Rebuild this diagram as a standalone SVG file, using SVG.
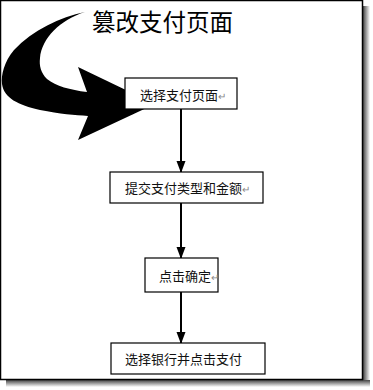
<svg xmlns="http://www.w3.org/2000/svg" width="373" height="390" viewBox="0 0 373 390">
<defs>
<style>
.box{fill:#fff;stroke:#000;stroke-width:1.2}
.lbl{font-family:"Noto Sans CJK SC","Noto Sans",sans-serif;font-size:13px;fill:#111}
.pm{fill:#888;font-size:10px}
.conn{stroke:#000;stroke-width:2;fill:none}
</style>
<marker id="ah" markerWidth="12" markerHeight="10" refX="11" refY="5" orient="auto" markerUnits="userSpaceOnUse">
<path d="M0,0.5 L12,5 L0,9.5 Z" fill="#000"/>
</marker>
<linearGradient id="shR" x1="0" x2="1" y1="0" y2="0"><stop offset="0" stop-color="#444"/><stop offset="1" stop-color="#fff"/></linearGradient>
<linearGradient id="shB" x1="0" x2="0" y1="0" y2="1"><stop offset="0" stop-color="#444"/><stop offset="1" stop-color="#fff"/></linearGradient>
</defs>
<rect width="373" height="390" fill="#fff"/>
<g id="frame">
<rect x="363" y="6" width="7" height="380" fill="url(#shR)"/>
<rect x="6" y="380" width="364" height="7" fill="url(#shB)"/>
<rect x="0.5" y="0.5" width="362" height="379" fill="#fff" stroke="#000" stroke-width="1.5"/>
</g>
<g id="title">
<text x="92" y="31" font-family="Noto Sans CJK SC,Noto Sans,sans-serif" font-size="23.5" fill="#000">篡改支付页面</text>
</g>
<g id="bigArrow">
<path d="M85,12 C60,17 33,30 14,50 C4,62 1,75 2,84 C4,98 18,105 40,110 C60,114 75,115 88,116 L78,140 L155,104 L78,67 L87,92 C70,90 56,86 47,79 C41,73 39,66 40,58 C42,38 60,20 85,12 Z" fill="#000"/>
</g>
<g id="connectors">
<line class="conn" x1="181" y1="109" x2="181" y2="172" marker-end="url(#ah)"/>
<line class="conn" x1="181" y1="203" x2="181" y2="258" marker-end="url(#ah)"/>
<line class="conn" x1="181" y1="292" x2="181" y2="343" marker-end="url(#ah)"/>
</g>
<g id="n1">
<rect class="box" x="125" y="78" width="112" height="31"/>
<text class="lbl" x="140" y="100">选择支付页面<tspan class="pm">↵</tspan></text>
</g>
<g id="n2">
<rect class="box" x="110" y="172" width="153" height="31"/>
<text class="lbl" x="125" y="193">提交支付类型和金额<tspan class="pm">↵</tspan></text>
</g>
<g id="n3">
<rect class="box" x="145" y="258" width="73" height="34"/>
<text class="lbl" x="159" y="281">点击确定<tspan class="pm">↵</tspan></text>
</g>
<g id="n4">
<rect class="box" x="111" y="343" width="154" height="31"/>
<text class="lbl" x="125" y="364">选择银行并点击支付</text>
</g>
</svg>
